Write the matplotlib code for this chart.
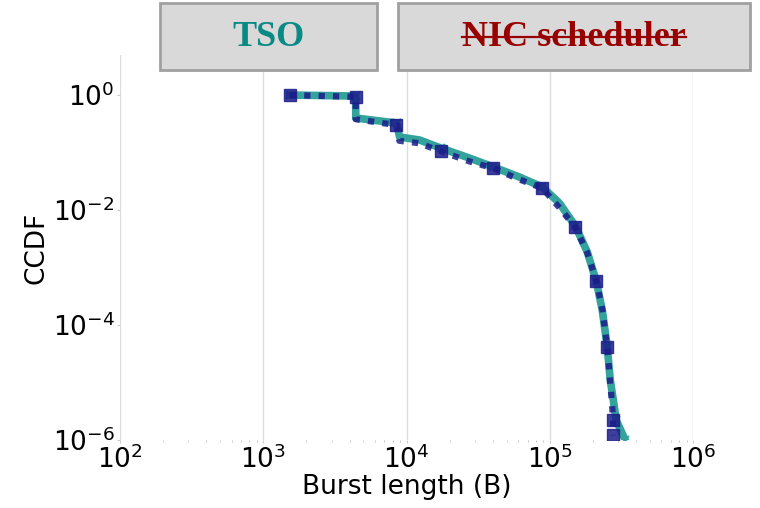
import matplotlib
matplotlib.use("Agg")
import matplotlib.pyplot as plt
from matplotlib.patches import Rectangle
from matplotlib.lines import Line2D

# CCDF of burst length
tso_x = [1531, 4416, 4416, 8511, 8933, 12330, 17260, 27480, 40380, 61240,
         88650, 116500, 150600, 182500, 210800, 232100, 251500, 264000,
         277000, 290600, 335500]
tso_y = [1.0, 0.96, 0.398, 0.326, 0.186, 0.165, 0.120, 0.080, 0.056, 0.0375,
         0.0251, 0.0132, 0.00527, 0.00186, 5.8e-4, 1.82e-4, 4.14e-5, 1.1e-5,
         5.0e-6, 2.2e-6, 1.0e-6]

nic_x = [1531, 4416, 4416, 8500, 8900, 12300, 17260, 27480, 40380, 61240,
         88650, 116500, 150600, 182500, 210800, 232100, 251500, 262000,
         272000, 276000, 276000]
nic_y = [1.0, 0.93, 0.38, 0.30, 0.16, 0.145, 0.105, 0.070, 0.053, 0.034,
         0.024, 0.011, 0.0050, 0.0018, 5.9e-4, 1.9e-4, 4.1e-5, 1.2e-5,
         4.0e-6, 2.2e-6, 1.2e-6]
nic_marks = [0, 1, 3, 6, 8, 10, 12, 14, 16, 19, 20]

x_ticks = [1e2, 1e3, 1e4, 1e5, 1e6]
y_ticks = [1e0, 1e-2, 1e-4, 1e-6]

fig = plt.figure(figsize=(7.6, 5.08), dpi=100)
ax = fig.add_axes([0.158, 0.134, 0.754, 0.758])

ax.plot(tso_x, tso_y, color="#33a39c", lw=5.5, marker="x", markersize=6,
        markeredgewidth=1.5, markevery=nic_marks, solid_joinstyle="round")
ax.plot(nic_x, nic_y, color="#1c1c8a", lw=4.5, dashes=(1.0, 1.3), alpha=0.85,
        marker="s", markersize=9, markevery=nic_marks)

ax.set_xscale("log")
ax.set_yscale("log")
ax.set_xlim(1e2, 1e6)
ax.set_ylim(1e-6, 5)
ax.set_xticks(x_ticks)
ax.set_yticks(y_ticks)
ax.tick_params(which="major", length=2, color="#cccccc", labelsize=19, pad=2)
ax.tick_params(axis="y", which="minor", length=0)
ax.tick_params(axis="x", which="minor", length=1.5, color="#bbbbbb")
for s in ax.spines.values():
    s.set_visible(False)
ax.grid(axis="x", which="major", color="#dddddd", lw=1)
ax.set_xlabel("Burst length (B)", fontsize=19, labelpad=0)
ax.set_ylabel("CCDF", fontsize=19, labelpad=2)

# header boxes
for x0, w in [(0.2105, 0.2855), (0.5237, 0.463)]:
    fig.add_artist(Rectangle((x0, 0.862), w, 0.132, transform=fig.transFigure,
                             facecolor="#d9d9d9", edgecolor="#a0a0a0", lw=2))
fig.text(0.353, 0.927, "TSO", ha="center", va="center", fontsize=26,
         fontweight="bold", family="Liberation Serif", color="#0a8a85")
nic = fig.text(0.755, 0.927, "NIC scheduler", ha="center", va="center",
               fontsize=26, fontweight="bold", family="Liberation Serif",
               color="#990000")

fig.canvas.draw()
bb = nic.get_window_extent().transformed(fig.transFigure.inverted())
ymid = bb.y0 + bb.height * 0.5
fig.add_artist(Line2D([bb.x0, bb.x1], [ymid, ymid], transform=fig.transFigure,
                      color="#990000", lw=1.6))

fig.savefig("out.png", dpi=100)
